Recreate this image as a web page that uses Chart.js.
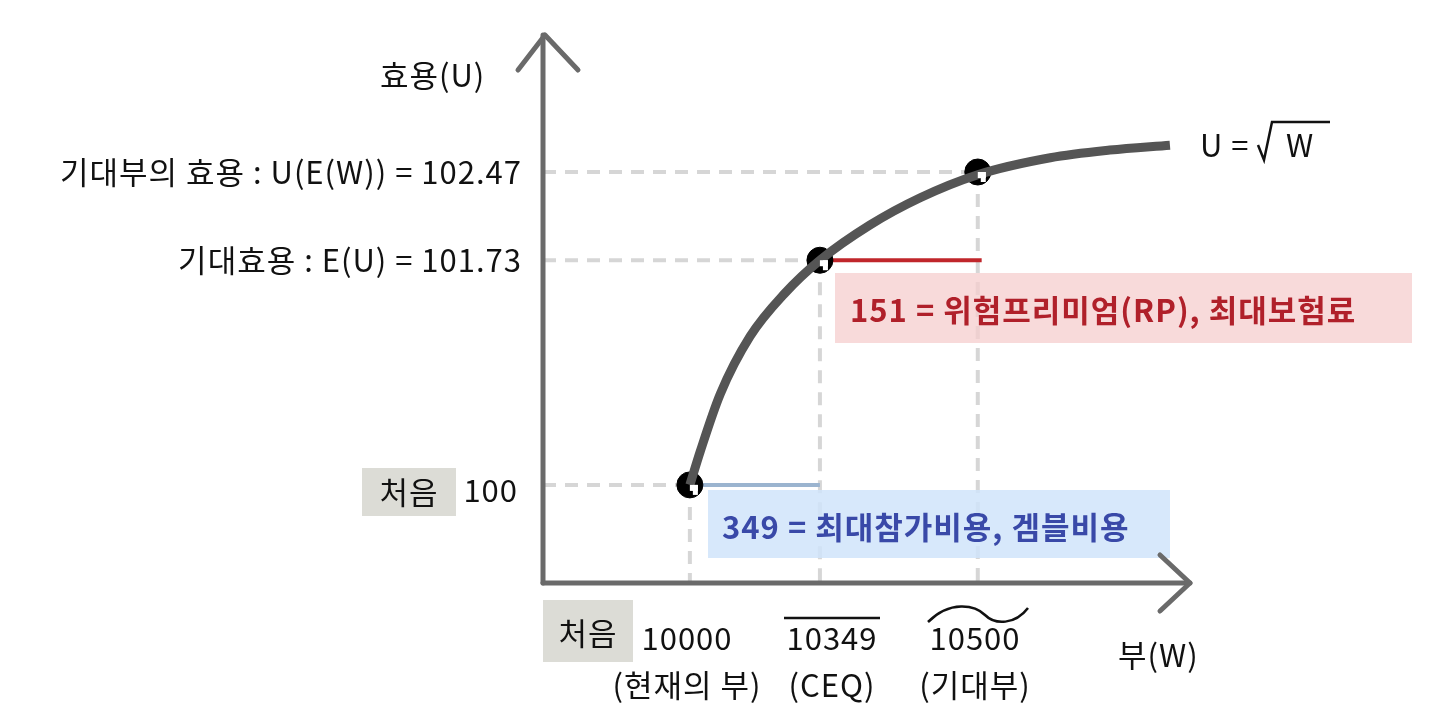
<!DOCTYPE html>
<html><head><meta charset="utf-8">
<script src="https://cdn.jsdelivr.net/npm/chart.js@4/dist/chart.umd.min.js"></script>
<style>html,body{margin:0;background:#fff}#c{width:1430px;height:724px}</style>
</head><body>
<div id="c"><canvas id="chart"></canvas></div>
<script>
// curve (drawing units, 0..100 on both axes)
const curveX = [22.7, 24.3, 27.4, 32.0, 37.4, 42.8, 50.5, 58.3, 67.2, 78.4, 87.6, 96.9];
const curveY = [17.9, 24.0, 34.5, 45.0, 52.9, 58.9, 65.3, 70.3, 74.5, 77.6, 79.0, 79.9];
// key points: current wealth, CEQ, expected wealth
const keyX = [22.7, 42.8, 67.2];
const keyY = [17.9, 58.9, 75.0];
const xTicks = ['10000', '10349', '10500'];
const xSub = ['(현재의 부)', '(CEQ)', '(기대부)'];
const yTicks = ['100', '기대효용 : E(U) = 101.73', '기대부의 효용 : U(E(W)) = 102.47'];
const rpEnd = 67.8;

const F = '"Noto Sans CJK KR", "Noto Sans", sans-serif';

const overlay = {
  id: 'overlay',
  beforeDatasetsDraw(chart) {
    const c = chart.ctx, x = chart.scales.x, y = chart.scales.y;
    const x0 = x.getPixelForValue(0), y0 = y.getPixelForValue(0);
    c.save();
    // dashed guides
    c.strokeStyle = '#d6d6d6'; c.lineWidth = 4; c.setLineDash([13, 9]);
    keyX.forEach((v, i) => {
      const px = x.getPixelForValue(v), py = y.getPixelForValue(keyY[i]);
      c.beginPath(); c.moveTo(x0, py); c.lineTo(px, py); c.stroke();
      c.beginPath(); c.moveTo(px, py); c.lineTo(px, y0); c.stroke();
    });
    c.setLineDash([]);
    // boxes
    c.fillStyle = 'rgba(246,205,205,0.75)';
    c.fillRect(835, 273, 577, 70);
    c.fillStyle = 'rgba(208,228,250,0.85)';
    c.fillRect(708, 490, 462, 68);
    c.fillStyle = '#dcdcd6';
    c.fillRect(362, 468, 94, 48);
    c.fillRect(543, 600, 90, 62);
    // RP and gamble lines
    c.lineWidth = 4;
    c.strokeStyle = '#c0262b';
    c.beginPath(); c.moveTo(x.getPixelForValue(keyX[1]), y.getPixelForValue(keyY[1]));
    c.lineTo(x.getPixelForValue(rpEnd), y.getPixelForValue(keyY[1])); c.stroke();
    c.strokeStyle = '#9bb4cf';
    c.beginPath(); c.moveTo(x.getPixelForValue(keyX[0]), y.getPixelForValue(keyY[0]));
    c.lineTo(x.getPixelForValue(keyX[1]), y.getPixelForValue(keyY[0])); c.stroke();
    // axes
    c.strokeStyle = '#6a6a6a'; c.lineWidth = 5; c.lineCap = 'round'; c.lineJoin = 'round';
    c.beginPath(); c.moveTo(x0, y0); c.lineTo(x0, 35); c.stroke();
    c.beginPath(); c.moveTo(518, 70); c.lineTo(x0 + 2, 35); c.lineTo(578, 70); c.stroke();
    c.beginPath(); c.moveTo(x0, y0); c.lineTo(1190, y0); c.stroke();
    c.beginPath(); c.moveTo(1160, 555); c.lineTo(1190, y0); c.lineTo(1160, 611); c.stroke();
    c.restore();
  },
  afterDatasetsDraw(chart) {
    const c = chart.ctx, x = chart.scales.x, y = chart.scales.y;
    c.save();
    c.font = '31px ' + F; c.fillStyle = '#111'; c.textBaseline = 'middle';
    c.letterSpacing = '1px';
    c.textAlign = 'left';
    c.fillText('효용(U)', 380, 75);
    c.fillText('부(W)', 1118, 655);
    c.fillText('U =', 1200, 145);
    c.fillText('W', 1286, 145);
    c.strokeStyle = '#111'; c.lineWidth = 2.5;
    c.beginPath(); c.moveTo(1258, 145); c.lineTo(1264, 160); c.lineTo(1272, 122); c.lineTo(1330, 122); c.stroke();
    c.textAlign = 'right';
    c.fillText(yTicks[2], 522, y.getPixelForValue(keyY[2]));
    c.fillText(yTicks[1], 522, y.getPixelForValue(keyY[1]));
    c.fillText(yTicks[0], 518, 490);
    c.textAlign = 'center';
    c.fillText('처음', 409, 492);
    c.fillText('처음', 588, 633);
    const cx = [687, 832, 975];
    xTicks.forEach((t, i) => {
      c.fillText(t, cx[i], 638);
      c.fillText(xSub[i], cx[i], 685);
    });
    c.beginPath(); c.moveTo(784, 618); c.lineTo(880, 618); c.stroke();
    c.beginPath(); c.moveTo(928, 622); c.bezierCurveTo(950, 600, 975, 605, 985, 615);
    c.bezierCurveTo(995, 625, 1015, 625, 1028, 608); c.stroke();
    c.font = 'bold 31px ' + F; c.textAlign = 'left';
    c.fillStyle = '#b0202a';
    c.fillText('151 = 위험프리미엄(RP), 최대보험료', 850, 310);
    c.fillStyle = '#3949a8';
    c.fillText('349 = 최대참가비용, 겜블비용', 722, 527);
    // notches in markers
    c.fillStyle = '#fff';
    keyX.forEach((v, i) => {
      const px = x.getPixelForValue(v), py = y.getPixelForValue(keyY[i]);
      c.fillRect(px, py, 8, 6);
      c.fillRect(px + 3, py, 5, 10);
    });
    c.restore();
  }
};

new Chart(document.getElementById('chart'), {
  type: 'scatter',
  data: {
    datasets: [{
      data: curveX.map((v, i) => ({ x: v, y: curveY[i] })),
      showLine: true, borderColor: '#555', borderWidth: 9, pointRadius: 0,
      tension: 0.4, cubicInterpolationMode: 'monotone'
    }, {
      data: keyX.map((v, i) => ({ x: v, y: keyY[i] })),
      pointRadius: 13, pointBackgroundColor: '#000', pointBorderColor: '#000'
    }]
  },
  options: {
    responsive: true, maintainAspectRatio: false, animation: false,
    layout: { padding: { left: 543, right: 240, top: 35, bottom: 141 } },
    plugins: { legend: { display: false }, tooltip: { enabled: false } },
    scales: {
      x: { type: 'linear', min: 0, max: 100, display: false },
      y: { type: 'linear', min: 0, max: 100, display: false }
    }
  },
  plugins: [overlay]
});
</script>
</body></html>
